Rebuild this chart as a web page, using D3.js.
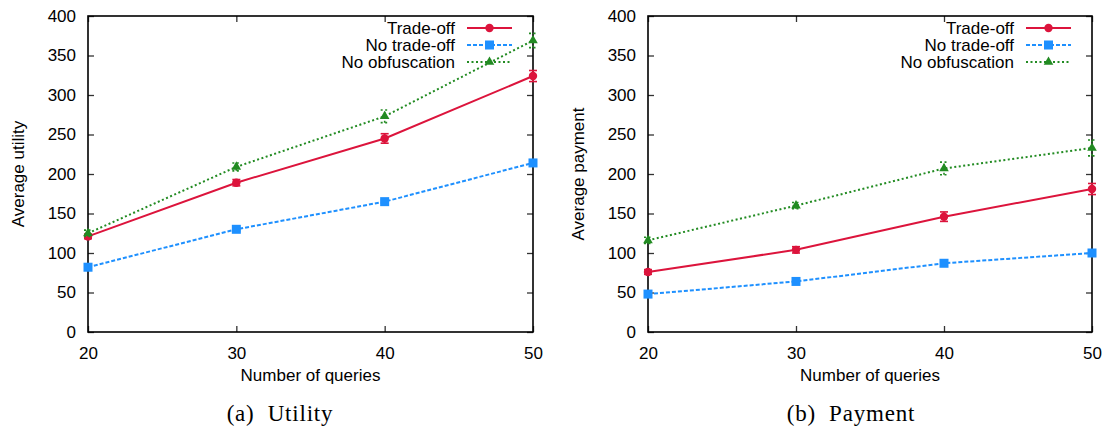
<!DOCTYPE html>
<html><head><meta charset="utf-8">
<script src="https://cdn.jsdelivr.net/npm/d3@7"></script>
<style>body{margin:0;background:#fff}svg{display:block}</style>
</head><body>
<svg id="c" width="1104" height="433"></svg>
<script>
const queries = [20, 30, 40, 50];
const yTicks = [0, 50, 100, 150, 200, 250, 300, 350, 400];
const seriesNames = ["Trade-off", "No trade-off", "No obfuscation"];

const utilTrade = [121, 189, 245, 324];
const utilTradeErr = [3, 4, 6, 7];
const utilNoTrade = [82, 130, 165, 214];
const utilNoTradeErr = [2, 2, 2, 2];
const utilNoObf = [125, 209, 273, 369];
const utilNoObfErr = [4, 5, 8, 9];

const payTrade = [76, 104, 146, 181];
const payTradeErr = [3, 4, 6, 7];
const payNoTrade = [48, 64, 87, 100];
const payNoTradeErr = [2, 2, 2, 2];
const payNoObf = [116, 160, 207, 233];
const payNoObfErr = [4, 4, 8, 10];

const styles = [
  {color: "#dc143c", dash: null, marker: "circle"},
  {color: "#1e90ff", dash: "4,2", marker: "square"},
  {color: "#228b22", dash: "2,2.5", marker: "triangle"}
];

const panels = [
  {x0: 88, x1: 533, ylabel: "Average utility", caption: "(a)  Utility", capX: 280,
   series: [[utilTrade, utilTradeErr], [utilNoTrade, utilNoTradeErr], [utilNoObf, utilNoObfErr]]},
  {x0: 648, x1: 1092, ylabel: "Average payment", caption: "(b)  Payment", capX: 851,
   series: [[payTrade, payTradeErr], [payNoTrade, payNoTradeErr], [payNoObf, payNoObfErr]]}
];

const svg = d3.select("#c");
const yTop = 16, yBot = 332;
const sans = "'Liberation Sans', Arial, sans-serif";
const fs = 17;

function drawMarker(g, type, x, y, color) {
  if (type === "circle") g.append("circle").attr("cx", x).attr("cy", y).attr("r", 4.2).attr("fill", color);
  else if (type === "square") g.append("rect").attr("x", x - 4.5).attr("y", y - 4.5).attr("width", 9).attr("height", 9).attr("fill", color);
  else g.append("path").attr("d", d3.symbol(d3.symbolTriangle, 40)()).attr("transform", `translate(${x},${y})`).attr("fill", color);
}

panels.forEach(p => {
  const x = d3.scaleLinear().domain([20, 50]).range([p.x0, p.x1]);
  const y = d3.scaleLinear().domain([0, 400]).range([yBot, yTop]);
  const g = svg.append("g");

  const tl = 6;
  g.append("g").attr("transform", `translate(${p.x0},0)`).call(d3.axisLeft(y).tickValues(yTicks).tickSize(-tl).tickPadding(12))
    .call(s => { s.select(".domain").remove(); s.selectAll("line").attr("stroke", "#333").attr("stroke-width", 1.3);
      s.selectAll("text").attr("font-family", sans).attr("font-size", fs).attr("fill", "#000"); });
  g.append("g").attr("transform", `translate(${p.x1},0)`).call(d3.axisRight(y).tickValues(yTicks).tickSize(-tl).tickFormat(""))
    .call(s => { s.select(".domain").remove(); s.selectAll("line").attr("stroke", "#333").attr("stroke-width", 1.3); });
  g.append("g").attr("transform", `translate(0,${yBot})`).call(d3.axisBottom(x).tickValues(queries).tickSize(-tl).tickPadding(15))
    .call(s => { s.select(".domain").remove(); s.selectAll("line").attr("stroke", "#333").attr("stroke-width", 1.3);
      s.selectAll("text").attr("font-family", sans).attr("font-size", fs).attr("fill", "#000"); });
  g.append("g").attr("transform", `translate(0,${yTop})`).call(d3.axisTop(x).tickValues(queries).tickSize(-tl).tickFormat(""))
    .call(s => { s.select(".domain").remove(); s.selectAll("line").attr("stroke", "#333").attr("stroke-width", 1.3); });

  g.append("rect").attr("x", p.x0).attr("y", yTop).attr("width", p.x1 - p.x0).attr("height", yBot - yTop)
    .attr("fill", "none").attr("stroke", "#000").attr("stroke-width", 1.6);

  const line = d3.line().x((d, i) => x(queries[i])).y(d => y(d));
  p.series.forEach((s, k) => {
    const st = styles[k];
    const sg = g.append("g");
    sg.append("path").attr("d", line(s[0])).attr("fill", "none").attr("stroke", st.color)
      .attr("stroke-width", 2).attr("stroke-dasharray", st.dash);
    s[0].forEach((v, i) => {
      const cx = x(queries[i]), e = s[1][i];
      const eg = sg.append("g").attr("stroke", st.color).attr("stroke-width", 1.6).attr("stroke-dasharray", st.dash);
      eg.append("line").attr("x1", cx).attr("x2", cx).attr("y1", y(v - e)).attr("y2", y(v + e));
      eg.append("line").attr("x1", cx - 4).attr("x2", cx + 4).attr("y1", y(v - e)).attr("y2", y(v - e));
      eg.append("line").attr("x1", cx - 4).attr("x2", cx + 4).attr("y1", y(v + e)).attr("y2", y(v + e));
      drawMarker(sg, st.marker, cx, y(v), st.color);
    });
  });

  const lx = p.x1 - 66;
  seriesNames.forEach((n, k) => {
    const ly = 28 + k * 17;
    const st = styles[k];
    g.append("text").attr("x", lx - 12).attr("y", ly).attr("dy", "0.35em").attr("text-anchor", "end")
      .attr("font-family", sans).attr("font-size", fs).text(n);
    g.append("line").attr("x1", lx).attr("x2", lx + 45).attr("y1", ly).attr("y2", ly)
      .attr("stroke", st.color).attr("stroke-width", 2).attr("stroke-dasharray", st.dash);
    drawMarker(g, st.marker, lx + 22.5, ly, st.color);
  });

  g.append("text").attr("x", (p.x0 + p.x1) / 2).attr("y", 381).attr("text-anchor", "middle")
    .attr("font-family", sans).attr("font-size", fs).text("Number of queries");
  g.append("text").attr("transform", `translate(${p.x0 - 64},${(yTop + yBot) / 2}) rotate(-90)`)
    .attr("text-anchor", "middle").attr("font-family", sans).attr("font-size", fs).text(p.ylabel);
  g.append("text").attr("x", p.capX).attr("y", 421).attr("text-anchor", "middle")
    .attr("font-family", "'Liberation Serif', 'DejaVu Serif', serif").attr("font-size", 23)
    .attr("letter-spacing", "0.8px").attr("xml:space", "preserve").text(p.caption);
});
</script>
</body></html>
